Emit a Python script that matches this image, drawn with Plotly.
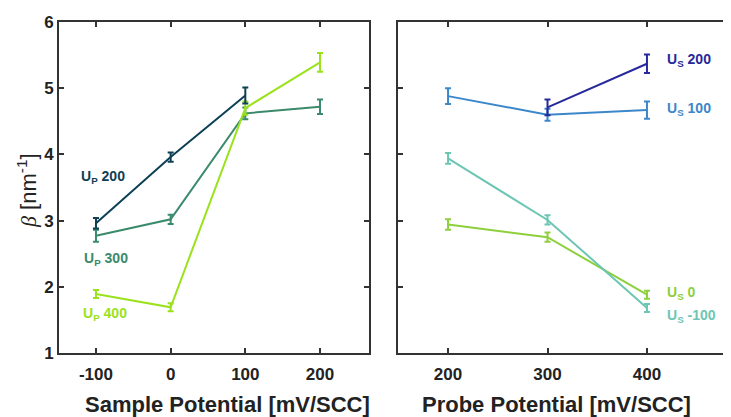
import plotly.graph_objects as go

# ---- data ----
sample_x = [-100, 0, 100, 200]
up200_y = [2.96, 3.96, 4.89, None]
up200_e = [0.08, 0.07, 0.12, None]
up300_y = [2.77, 3.02, 4.62, 4.72]
up300_e = [0.09, 0.07, 0.09, 0.11]
up400_y = [1.89, 1.69, 4.70, 5.39]
up400_e = [0.06, 0.06, 0.10, 0.14]

probe_x = [200, 300, 400]
us200_y = [None, 4.71, 5.37]
us200_e = [None, 0.12, 0.14]
us100_y = [4.88, 4.60, 4.67]
us100_e = [0.12, 0.09, 0.13]
us0_y = [2.94, 2.75, 1.88]
us0_e = [0.08, 0.07, 0.06]
usm100_y = [3.94, 3.01, 1.68]
usm100_e = [0.08, 0.07, 0.06]

y_ticks = [1, 2, 3, 4, 5, 6]
y_ticktext = ["1", "2", "3", "4", "5", "6"]
sample_ticks = [-100, 0, 100, 200]
sample_ticktext = ["-100", "0", "100", "200"]
probe_ticks = [200, 300, 400]
probe_ticktext = ["200", "300", "400"]

C_UP200 = "#0d4055"
C_UP300 = "#3a8a6b"
C_UP400 = "#9ae21c"
C_US200 = "#26299b"
C_US100 = "#3b87c9"
C_US0 = "#8dcf3c"
C_USM100 = "#6cc6b3"

FONT = "Liberation Sans, Arial, sans-serif"
AX = "#333333"
TXT = "#222222"

fig = go.Figure()

def add(x, y, e, color, xa, ya):
    fig.add_trace(go.Scatter(
        x=x, y=y, mode="lines", xaxis=xa, yaxis=ya,
        line=dict(color=color, width=2),
        error_y=dict(type="data", array=e, visible=True, color=color,
                     thickness=2, width=3),
        showlegend=False, connectgaps=False))

add(sample_x, up300_y, up300_e, C_UP300, "x", "y")
add(sample_x, up400_y, up400_e, C_UP400, "x", "y")
add(sample_x, up200_y, up200_e, C_UP200, "x", "y")
add(probe_x, us0_y, us0_e, C_US0, "x2", "y2")
add(probe_x, usm100_y, usm100_e, C_USM100, "x2", "y2")
add(probe_x, us100_y, us100_e, C_US100, "x2", "y2")
add(probe_x, us200_y, us200_e, C_US200, "x2", "y2")

def bold(lst):
    return ["<b>%s</b>" % t for t in lst]

tickfont = dict(family=FONT, size=17, color=TXT)
common = dict(showline=True, linecolor=AX, linewidth=2, ticks="inside",
              ticklen=5, tickwidth=1.5, tickcolor=AX, showgrid=False,
              zeroline=False, tickfont=tickfont)

# page body has an 8px default margin: size figure so it ends at the window edge
fig.update_layout(
    width=723, height=409,
    margin=dict(l=51, r=0, t=14, b=64),
    paper_bgcolor="white", plot_bgcolor="white",
    font=dict(family=FONT),
    xaxis=dict(domain=[0, 0.4613], range=[-149.5, 265.6], tickvals=sample_ticks,
               ticktext=bold(sample_ticktext), mirror="ticks", anchor="y",
               ticklabelstandoff=5, **common),
    yaxis=dict(domain=[0, 1], range=[1, 6], tickvals=y_ticks,
               ticktext=bold(y_ticktext), mirror="ticks", anchor="x", **common),
    xaxis2=dict(domain=[0.5045, 1], range=[149.7, 484.5], tickvals=probe_ticks,
                ticktext=bold(probe_ticktext), mirror="ticks", anchor="y2",
                ticklabelstandoff=5, **common),
    yaxis2=dict(domain=[0, 1], range=[1, 6], tickvals=y_ticks, mirror=False,
                showticklabels=False, anchor="x2", **common),
)

ann = []
def lab(text, x, y, color, xref, yref):
    ann.append(dict(text=text, x=x, y=y, xref=xref, yref=yref, xanchor="left",
                    yanchor="middle", showarrow=False,
                    font=dict(family=FONT, size=14, color=color)))

lab("<b>U<sub>P</sub> 200</b>", -123, 3.66, C_UP200, "x", "y")
lab("<b>U<sub>P</sub> 300</b>", -119, 2.42, C_UP300, "x", "y")
lab("<b>U<sub>P</sub> 400</b>", -120, 1.59, C_UP400, "x", "y")
lab("<b>U<sub>S</sub> 200</b>", 418, 5.43, C_US200, "x2", "y2")
lab("<b>U<sub>S</sub> 100</b>", 418, 4.68, C_US100, "x2", "y2")
lab("<b>U<sub>S</sub> 0</b>", 418, 1.91, C_US0, "x2", "y2")
lab("<b>U<sub>S</sub> -100</b>", 418, 1.56, C_USM100, "x2", "y2")

ann.append(dict(text="<b>Sample Potential [mV/SCC]</b>", x=(227 - 59) / 672,
                y=-(404 - 353) / 331, xref="paper", yref="paper",
                xanchor="center", yanchor="middle", showarrow=False,
                font=dict(family=FONT, size=22, color=TXT)))
ann.append(dict(text="<b>Probe Potential [mV/SCC]</b>", x=(556 - 59) / 672,
                y=-(404 - 353) / 331, xref="paper", yref="paper",
                xanchor="center", yanchor="middle", showarrow=False,
                font=dict(family=FONT, size=22, color=TXT)))
ann.append(dict(text="<span style='font-family:Liberation Serif'><i>β</i></span> [nm<sup>-1</sup>]",
                x=(27 - 59) / 672, y=1 - (191 - 22) / 331,
                xref="paper", yref="paper", xanchor="center", yanchor="middle",
                textangle=-90, showarrow=False,
                font=dict(family=FONT, size=22, color=TXT)))
fig.update_layout(annotations=ann)

fig.write_html("out.html")
